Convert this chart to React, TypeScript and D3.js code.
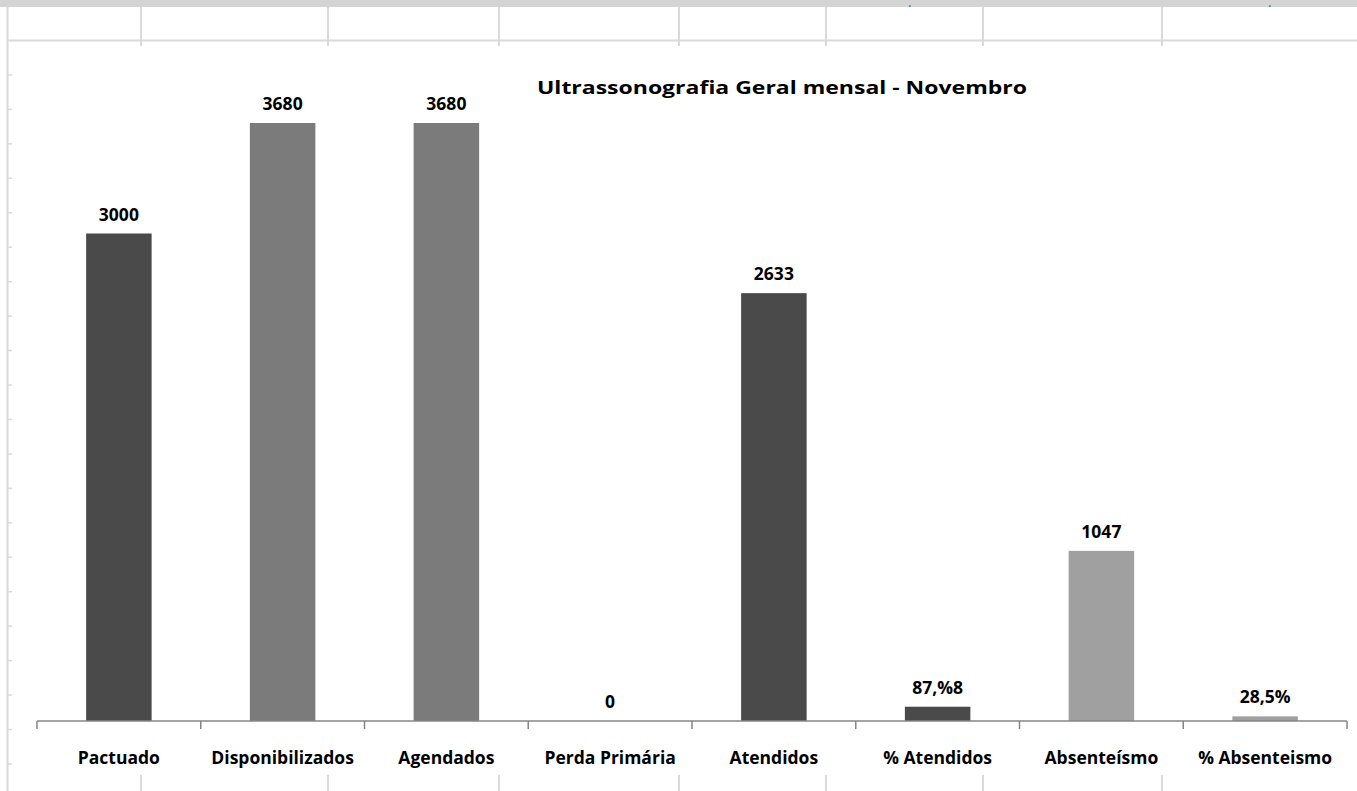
import React from 'react';
import * as d3 from 'd3';

// chart data
const categories = [
  'Pactuado',
  'Disponibilizados',
  'Agendados',
  'Perda Primária',
  'Atendidos',
  '% Atendidos',
  'Absenteísmo',
  '% Absenteismo',
];
const values = [3000, 3680, 3680, 0, 2633, 87.8, 1047, 28.5];
const valueLabels = ['3000', '3680', '3680', '0', '2633', '87,%8', '1047', '28,5%'];
const shades = ['dark', 'mid', 'mid', 'dark', 'dark', 'dark', 'light', 'light'];

const title = 'Ultrassonografia Geral mensal - Novembro';

const W = 1357;
const H = 791;
const FONT = "'Open Sans', 'Liberation Sans', sans-serif";

const colors: Record<string, string> = {
  dark: '#4a4a4a',
  mid: '#7b7b7b',
  light: '#a0a0a0',
};

// spreadsheet behind the chart
const sheetCols = [141, 328, 499, 679, 826, 983, 1162];
const sheetRowTop = 40.5;
const sheetRowStep = 34.45;

export default function App() {
  const x = d3.scaleBand<string>()
    .domain(categories)
    .range([37, 1347])
    .paddingInner(0.6)
    .paddingOuter(0.3);

  const y = d3.scaleLinear()
    .domain([0, 4000])
    .range([721, 71]);

  const step = x.step();
  const x0 = 37;
  const baseY = y(0);

  const rowTicks = d3.range(1, 22)
    .map(i => sheetRowTop + i * sheetRowStep)
    .filter(v => v < H);

  return (
    <svg
      width={W}
      height={H}
      style={{ position: 'absolute', left: 0, top: 0, background: '#fff' }}
    >
      {/* sheet chrome */}
      <rect x={0} y={0} width={W} height={7} fill="#d4d4d4" />
      <text x={909} y={6} fontSize={7} fontWeight="bold" fill="#222" fontFamily={FONT}>,</text>
      <text x={1269} y={6} fontSize={7} fontWeight="bold" fill="#222" fontFamily={FONT}>,</text>
      <line x1={7} x2={W} y1={sheetRowTop} y2={sheetRowTop} stroke="#dadada" strokeWidth={2} />
      <line x1={7.5} x2={7.5} y1={7} y2={H} stroke="#dadada" strokeWidth={2} />
      {sheetCols.map(c => (
        <g key={c}>
          <line x1={c} x2={c} y1={7} y2={46} stroke="#dadada" strokeWidth={2} />
          <line x1={c} x2={c} y1={775} y2={H} stroke="#dadada" strokeWidth={2} />
        </g>
      ))}
      {rowTicks.map(t => (
        <line key={t} x1={8} x2={12} y1={t} y2={t} stroke="#dadada" strokeWidth={1.5} />
      ))}

      {/* title */}
      <text
        x={782}
        y={94}
        textAnchor="middle"
        fontFamily={FONT}
        fontWeight="bold"
        fontSize={18}
        fill="#000"
        textLength={490}
        lengthAdjust="spacingAndGlyphs"
      >
        {title}
      </text>

      {/* bars */}
      {categories.map((c, i) => (
        <rect
          key={c}
          x={x(c)}
          y={y(values[i])}
          width={x.bandwidth()}
          height={baseY - y(values[i])}
          fill={colors[shades[i]]}
        />
      ))}

      {/* value labels */}
      {categories.map((c, i) => (
        <text
          key={c}
          x={(x(c) ?? 0) + x.bandwidth() / 2}
          y={y(values[i]) - 13}
          textAnchor="middle"
          fontFamily={FONT}
          fontWeight="bold"
          fontSize={17.5}
          fill="#000"
        >
          {valueLabels[i]}
        </text>
      ))}

      {/* category axis */}
      <line x1={x0} x2={1347} y1={baseY} y2={baseY} stroke="#868686" strokeWidth={1.5} />
      {d3.range(categories.length + 1).map(i => (
        <line
          key={i}
          x1={x0 + i * step}
          x2={x0 + i * step}
          y1={baseY}
          y2={baseY + 8}
          stroke="#868686"
          strokeWidth={1.5}
        />
      ))}
      {categories.map(c => (
        <text
          key={c}
          x={(x(c) ?? 0) + x.bandwidth() / 2}
          y={764}
          textAnchor="middle"
          fontFamily={FONT}
          fontWeight="bold"
          fontSize={17.5}
          fill="#000"
        >
          {c}
        </text>
      ))}
    </svg>
  );
}
